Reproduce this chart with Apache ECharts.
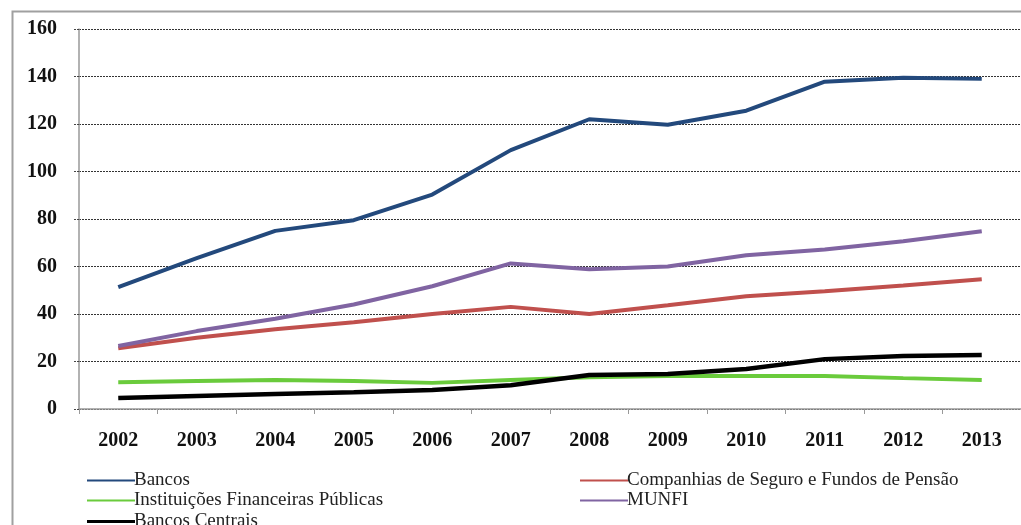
<!DOCTYPE html>
<html>
<head>
<meta charset="utf-8">
<script src="https://cdn.jsdelivr.net/npm/echarts@6/dist/echarts.min.js"></script>
<style>
  html, body { margin: 0; padding: 0; background: #fff; }
  #chart { width: 1021px; height: 525px; }
</style>
</head>
<body>
<div id="chart"></div>
<script>
// Years on the horizontal axis
const years = ['2002','2003','2004','2005','2006','2007','2008','2009','2010','2011','2012','2013'];

// Series values
const bancos = [51.3, 63.5, 75, 79.5, 90.3, 109, 122, 119.7, 125.6, 137.8, 139.5, 139];
const companhias = [25.6, 30, 33.6, 36.5, 40, 43, 40, 43.7, 47.5, 49.6, 52, 54.6];
const instituicoes = [11.3, 11.8, 12.2, 11.8, 11, 12.2, 13.4, 13.9, 13.9, 13.9, 13, 12.2];
const munfi = [26.5, 32.8, 38, 44, 51.7, 61.3, 58.8, 60, 64.7, 67.2, 70.6, 74.8];
const bancosCentrais = [4.6, 5.5, 6.3, 7.1, 8, 10, 14.3, 14.7, 16.8, 21, 22.3, 22.7];

// Names shown in the legend
const names = {
  bancos: 'Bancos',
  companhias: 'Companhias de Seguro e Fundos de Pensão',
  instituicoes: 'Instituições Financeiras Públicas',
  munfi: 'MUNFI',
  centrais: 'Bancos Centrais'
};

const serif = '"Liberation Serif", "Times New Roman", serif';

function line(name, data, color, width, z) {
  return {
    name: name, type: 'line', data: data,
    showSymbol: false, symbol: 'none', z: z,
    lineStyle: { color: color, width: width },
    itemStyle: { color: color },
    emphasis: { disabled: true }
  };
}

function legendAt(name, left, top, h) {
  return {
    data: [name], left: left, top: top,
    icon: 'rect', itemWidth: 48, itemHeight: h,
    textStyle: { fontFamily: serif, fontSize: 19, color: '#222', padding: [0, 0, 0, -6] },
    selectedMode: false
  };
}

const chart = echarts.init(document.getElementById('chart'));
chart.setOption({
  animation: false,
  backgroundColor: '#fff',
  graphic: [{
    type: 'rect', left: 10, top: 9,
    shape: { width: 1100, height: 600 },
    style: { fill: 'none', stroke: '#a0a0a0', lineWidth: 2 },
    silent: true
  }],
  grid: { left: 79, top: 29, width: 947, height: 380 },
  legend: [
    legendAt(names.bancos, 82, 466, 2),
    legendAt(names.companhias, 575, 466, 2),
    legendAt(names.instituicoes, 82, 486, 2),
    legendAt(names.munfi, 575, 486, 2),
    legendAt(names.centrais, 82, 507, 3)
  ],
  xAxis: {
    type: 'category', data: years, boundaryGap: true,
    axisLine: { show: true, lineStyle: { color: '#999', width: 1.5 } },
    axisTick: { show: true, length: 5, lineStyle: { color: '#999' } },
    axisLabel: { fontFamily: serif, fontWeight: 'bold', fontSize: 20, color: '#111', margin: 22 },
    splitLine: { show: false }
  },
  yAxis: {
    type: 'value', min: 0, max: 160, interval: 20,
    axisLine: { show: true, lineStyle: { color: '#999', width: 1.5 } },
    axisTick: { show: true, length: 6, lineStyle: { color: '#444', type: [2, 1] } },
    axisLabel: { fontFamily: serif, fontWeight: 'bold', fontSize: 20, color: '#111', margin: 22 },
    splitLine: { show: true, lineStyle: { color: '#333', width: 1, type: [2, 1] } }
  },
  series: [
    line(names.bancos, bancos, '#23497C', 4, 5),
    line(names.companhias, companhias, '#C0504D', 4, 4),
    line(names.instituicoes, instituicoes, '#6ACB3C', 4, 3),
    line(names.munfi, munfi, '#8064A2', 4, 4),
    line(names.centrais, bancosCentrais, '#000000', 4.5, 6)
  ]
});
</script>
</body>
</html>
